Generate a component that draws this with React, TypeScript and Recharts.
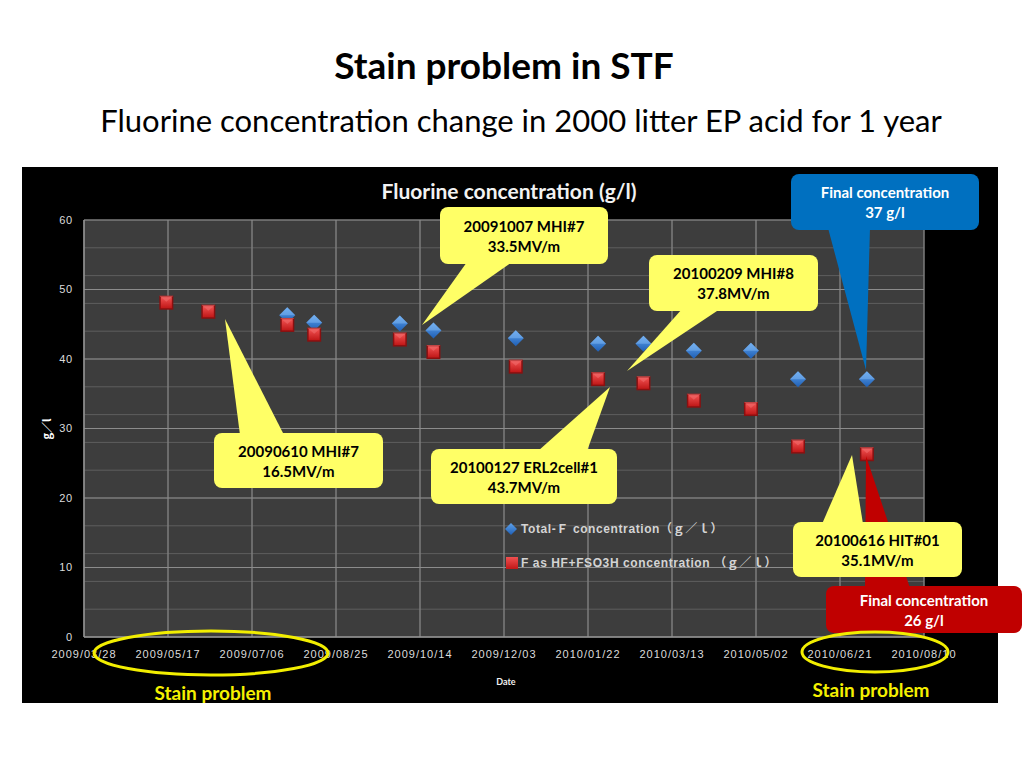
import React from 'react';
import { ScatterChart, Scatter, XAxis, YAxis, CartesianGrid } from 'recharts';

// sampling dates and values
const redDates = ['2009/05/16', '2009/06/10', '2009/07/27', '2009/08/12', '2009/10/02', '2009/10/22', '2009/12/10', '2010/01/28', '2010/02/24', '2010/03/26', '2010/04/29', '2010/05/27', '2010/07/07'];
const redValues = [48.1, 46.8, 44.9, 43.5, 42.8, 41.0, 38.9, 37.1, 36.5, 34.0, 32.8, 27.4, 26.3];
const blueDates = ['2009/07/27', '2009/08/12', '2009/10/02', '2009/10/22', '2009/12/10', '2010/01/28', '2010/02/24', '2010/03/26', '2010/04/29', '2010/05/27', '2010/07/07'];
const blueValues = [46.3, 45.2, 45.1, 44.1, 43.0, 42.2, 42.2, 41.2, 41.2, 37.1, 37.1];

const xTickLabels = ['2009/03/28', '2009/05/17', '2009/07/06', '2009/08/25', '2009/10/14', '2009/12/03', '2010/01/22', '2010/03/13', '2010/05/02', '2010/06/21', '2010/08/10'];
const yTicks = [0, 10, 20, 30, 40, 50, 60];

const blueName = 'Total-Ｆ concentration（ｇ／ｌ）';
const redName = 'F as HF+FSO3H concentration （ｇ／ｌ）';

const toTime = (s: string) => {
  const [y, m, d] = s.split('/').map(Number);
  return Date.UTC(y, m - 1, d);
};
const fmt = (t: number) => {
  const d = new Date(t);
  const p = (n: number) => String(n).padStart(2, '0');
  return `${d.getUTCFullYear()}/${p(d.getUTCMonth() + 1)}/${p(d.getUTCDate())}`;
};

const xTicks = xTickLabels.map(toTime);
const DAY = 86400000;
const xMinor: number[] = [];
for (let t = xTicks[0]; t <= xTicks[xTicks.length - 1]; t += 10 * DAY) xMinor.push(t);
const yMinor: number[] = [];
for (let v = 0; v <= 60; v += 2) yMinor.push(v);

const redData = redDates.map((d, i) => ({ x: toTime(d), y: redValues[i] }));
const blueData = blueDates.map((d, i) => ({ x: toTime(d), y: blueValues[i] }));

const font = 'Lato, "Noto Sans", sans-serif';
const tickFont = '"Liberation Sans", sans-serif';

const RedSquare = (props: any) => {
  const { cx, cy } = props;
  return (
    <g>
      <rect x={cx - 7} y={cy - 7} width={14} height={14} fill="#8a1010" />
      <rect x={cx - 5.5} y={cy - 5.5} width={11} height={11} fill="url(#redGrad)" />
      <polygon points={`${cx - 7},${cy - 7} ${cx + 7},${cy - 7} ${cx},${cy - 1}`} fill="#f07070" opacity={0.55} />
    </g>
  );
};

const BlueDiamond = (props: any) => {
  const { cx, cy } = props;
  return (
    <g>
      <polygon points={`${cx},${cy - 8} ${cx + 8},${cy} ${cx},${cy + 8} ${cx - 8},${cy}`} fill="url(#blueGrad)" />
      <polygon points={`${cx},${cy - 8} ${cx + 8},${cy} ${cx - 8},${cy}`} fill="#8cc0f8" opacity={0.45} />
    </g>
  );
};

type CalloutProps = {
  x: number; y: number; w: number; h: number;
  tail: [number, number][]; fill: string; color: string; lines: string[];
};

const Callout = ({ x, y, w, h, tail, fill, color, lines }: CalloutProps) => (
  <g>
    <polygon points={tail.map(p => p.join(',')).join(' ')} fill={fill} />
    <rect x={x} y={y} width={w} height={h} rx={8} fill={fill} />
    {lines.map((l, i) => (
      <text key={i} x={x + w / 2} y={y + h / 2 + (i - (lines.length - 1) / 2) * 20} textAnchor="middle" dominantBaseline="central"
        fontFamily={font} fontWeight="bold" fontSize={15} fill={color}>{l}</text>
    ))}
  </g>
);

const yellow = '#ffff66';

export default function App() {
  return (
    <div style={{ position: 'absolute', left: 0, top: 0, width: 1024, height: 768, background: '#fff', overflow: 'hidden' }}>
      <svg width={0} height={0} style={{ position: 'absolute' }}>
        <defs>
          <linearGradient id="redGrad" x1="0" y1="0" x2="0" y2="1">
            <stop offset="0%" stopColor="#f05050" />
            <stop offset="100%" stopColor="#c01818" />
          </linearGradient>
          <linearGradient id="blueGrad" x1="0" y1="0" x2="0" y2="1">
            <stop offset="0%" stopColor="#5ea2ec" />
            <stop offset="100%" stopColor="#1f5fb5" />
          </linearGradient>
        </defs>
      </svg>

      <div style={{ position: 'absolute', left: 0, top: 40, width: 1008, textAlign: 'center', fontFamily: font, fontWeight: 'bold', fontSize: 37, lineHeight: '50px', color: '#000' }}>
        Stain problem in STF
      </div>
      <div style={{ position: 'absolute', left: 0, top: 98, width: 1042, textAlign: 'center', fontFamily: font, fontSize: 31, lineHeight: '44px', color: '#000' }}>
        Fluorine concentration change in 2000 litter EP acid for 1 year
      </div>

      <div style={{ position: 'absolute', left: 22, top: 167, width: 976, height: 536, background: '#000' }} />

      <div style={{ position: 'absolute', left: 0, top: 0 }}>
        <ScatterChart width={1024} height={768} margin={{ top: 220, right: 100, bottom: 101, left: 44 }}>
          <CartesianGrid fill="#3d3d3d" stroke="#5e5e5e" strokeWidth={1} horizontalValues={yMinor} verticalValues={xMinor} />
          <CartesianGrid fill="none" stroke="#8c8c8c" strokeWidth={1} horizontalValues={yTicks} verticalValues={xTicks} />
          <XAxis type="number" dataKey="x" domain={[xTicks[0], xTicks[xTicks.length - 1]]} ticks={xTicks} tickFormatter={fmt}
            height={30} tickSize={0} tickMargin={13} axisLine={{ stroke: '#9a9a9a' }}
            tick={{ fill: '#dcdcdc', fontSize: 11, fontFamily: tickFont, letterSpacing: 1.0 }} allowDataOverflow />
          <YAxis type="number" dataKey="y" domain={[0, 60]} ticks={yTicks} width={40} tickSize={0} tickMargin={11}
            axisLine={{ stroke: '#9a9a9a' }}
            tick={{ fill: '#dcdcdc', fontSize: 11, fontFamily: tickFont, letterSpacing: 0.8 }} />
          <Scatter name={blueName} data={blueData} shape={<BlueDiamond />} isAnimationActive={false} />
          <Scatter name={redName} data={redData} shape={<RedSquare />} isAnimationActive={false} />
        </ScatterChart>
      </div>

      <svg width={1024} height={768} style={{ position: 'absolute', left: 0, top: 0, pointerEvents: 'none' }}>
        <text x={509} y={190} textAnchor="middle" dominantBaseline="central" fontFamily={font} fontWeight="bold" fontSize={21} fill="#f2f2f2">
          Fluorine concentration (g/l)
        </text>
        <text x={46} y={429} textAnchor="middle" dominantBaseline="central" transform="rotate(-90 46 429)"
          fontFamily='"Noto Sans CJK JP", sans-serif' fontWeight="bold" fontSize={11} fill="#fff">g／l</text>
        <text x={506} y={681} textAnchor="middle" dominantBaseline="central" fontFamily={font} fontWeight="bold" fontSize={9} fill="#f0f0f0">Date</text>

        {/* legend */}
        <g fontFamily={'"Liberation Sans", "Noto Sans CJK JP", sans-serif'} fontWeight="bold" fontSize={12} letterSpacing={0.6} fill="#d4d4d4">
          <polygon points="511,523 517,529 511,535 505,529" fill="url(#blueGrad)" />
          <text x={521} y={529} dominantBaseline="central">{blueName}</text>
          <rect x={506} y={557} width={12} height={12} fill="url(#redGrad)" />
          <text x={521} y={563} dominantBaseline="central">{redName}</text>
        </g>

        <Callout x={826} y={586} w={196} h={47} fill="#c00000" color="#fff" lines={['Final concentration', '26 g/l']}
          tail={[[866, 456], [865, 588], [910, 588]]} />
        <Callout x={791} y={174} w={188} h={56} fill="#0070c0" color="#fff" lines={['Final concentration', '37 g/l']}
          tail={[[828, 228], [870, 228], [866, 370]]} />
        <Callout x={440} y={207} w={168} h={57} fill={yellow} color="#000" lines={['20091007 MHI#7', '33.5MV/m']}
          tail={[[467, 262], [512, 262], [422, 325]]} />
        <Callout x={649} y={255} w={169} h={56} fill={yellow} color="#000" lines={['20100209 MHI#8', '37.8MV/m']}
          tail={[[682, 309], [720, 309], [627, 371]]} />
        <Callout x={214} y={433} w={169} h={55} fill={yellow} color="#000" lines={['20090610 MHI#7', '16.5MV/m']}
          tail={[[240, 435], [284, 435], [225, 319]]} />
        <Callout x={431} y={449} w={186} h={55} fill={yellow} color="#000" lines={['20100127 ERL2cell#1', '43.7MV/m']}
          tail={[[538, 451], [587, 451], [610, 387]]} />
        <Callout x={793} y={522} w={169} h={55} fill={yellow} color="#000" lines={['20100616 HIT#01', '35.1MV/m']}
          tail={[[822, 524], [863, 524], [852, 455]]} />

        <ellipse cx={211} cy={653} rx={117} ry={22} fill="none" stroke="#f2ee00" strokeWidth={3} />
        <ellipse cx={875} cy={652} rx={73} ry={20} fill="none" stroke="#f2ee00" strokeWidth={3} />
        <text x={213} y={692} textAnchor="middle" dominantBaseline="central" fontFamily={font} fontWeight="bold" fontSize={19} fill="#f5f000">Stain problem</text>
        <text x={871} y={689} textAnchor="middle" dominantBaseline="central" fontFamily={font} fontWeight="bold" fontSize={19} fill="#f5f000">Stain problem</text>
      </svg>
    </div>
  );
}
